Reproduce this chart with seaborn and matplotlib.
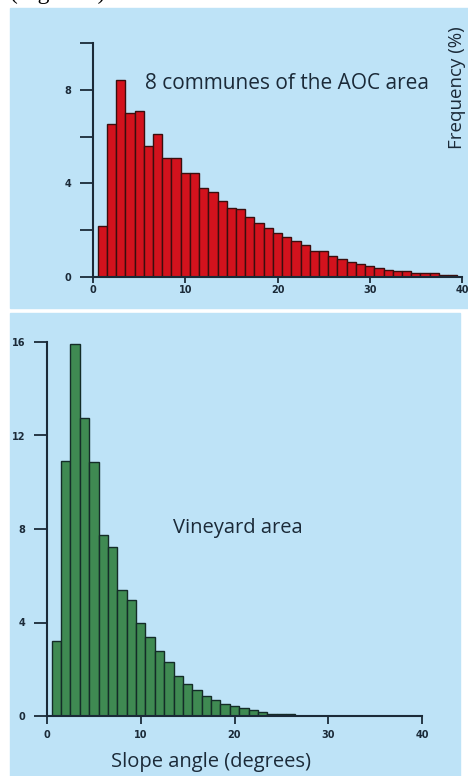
import matplotlib
matplotlib.use("Agg")
import matplotlib.pyplot as plt
from matplotlib.patches import Rectangle
import numpy as np
import seaborn as sns

# slope angle classes (degrees, 1-degree bins) and frequency (%)
aoc_slope = list(range(1, 40))
aoc_freq = [2.2, 6.55, 8.4, 7.0, 7.1, 5.6, 6.1, 5.1, 5.1, 4.45,
            4.45, 3.8, 3.65, 3.25, 2.95, 2.9, 2.55, 2.3, 2.1, 1.9,
            1.7, 1.55, 1.35, 1.1, 1.1, 0.9, 0.75, 0.65, 0.55, 0.45,
            0.38, 0.32, 0.25, 0.25, 0.15, 0.15, 0.15, 0.08, 0.08]

vine_slope = list(range(1, 27))
vine_freq = [3.2, 10.9, 15.9, 12.75, 10.85, 7.75, 7.25, 5.4, 4.95, 4.0,
             3.4, 2.8, 2.3, 1.7, 1.35, 1.1, 0.85, 0.68, 0.5, 0.43,
             0.34, 0.26, 0.18, 0.1, 0.1, 0.1]

top_yticks = [0, 2, 4, 6, 8, 10]
top_ylabels = ["0", "", "4", "", "8", ""]
bot_yticks = [0, 4, 8, 12, 16]
xticks = [0, 10, 20, 30, 40]

BLUE = "#bee3f7"
INK = "#1b2a38"
W, H = 468, 776

sns.set_style("ticks")
plt.rcParams["font.family"] = ["Open Sans", "DejaVu Sans"]


def fx(px):
    return px / W


def fy(py):
    return 1 - py / H


fig = plt.figure(figsize=(W / 100, H / 100), dpi=100, facecolor="white")

# light blue panels behind each chart
fig.add_artist(Rectangle((fx(10), fy(308)), fx(468) - fx(10), fy(8) - fy(308),
                         transform=fig.transFigure, color=BLUE, zorder=0))
fig.add_artist(Rectangle((fx(10), fy(776)), fx(460) - fx(10), fy(313) - fy(776),
                         transform=fig.transFigure, color=BLUE, zorder=0))

ax1 = fig.add_axes([fx(93), fy(277), fx(462) - fx(93), fy(43) - fy(277)])
ax2 = fig.add_axes([fx(47), fy(716), fx(422) - fx(47), fy(342) - fy(716)])

sns.histplot(x=aoc_slope, weights=aoc_freq, discrete=True, ax=ax1,
             color="#d3121d", edgecolor="#3a0e0e", linewidth=1.0, alpha=1)
sns.histplot(x=vine_slope, weights=vine_freq, discrete=True, ax=ax2,
             color="#3f8a52", edgecolor="#142c28", linewidth=1.0, alpha=1)

tick_font = dict(fontsize=7, fontweight="bold", color=INK, family="DejaVu Sans")

for ax in (ax1, ax2):
    ax.set_facecolor("none")
    ax.set_xlim(0, 40)
    ax.set_xlabel("")
    ax.set_ylabel("")
    sns.despine(ax=ax)
    for s in ("left", "bottom"):
        ax.spines[s].set_color(INK)
        ax.spines[s].set_linewidth(1.5)
    ax.set_xticks(xticks)
    ax.set_xticklabels([str(t) for t in xticks], **tick_font)
    ax.tick_params(axis="y", direction="out", length=9.5, width=1.3,
                   color=INK, pad=6)

ax1.set_ylim(0, 10)
ax1.set_yticks(top_yticks)
ax1.set_yticklabels(top_ylabels, **tick_font)
ax1.tick_params(axis="x", direction="out", length=4.5, width=1.3,
                color=INK, pad=1.5)

ax2.set_ylim(0, 16)
ax2.set_yticks(bot_yticks)
ax2.set_yticklabels([str(t) for t in bot_yticks], **tick_font)
ax2.tick_params(axis="x", direction="out", length=6, width=1.3,
                color=INK, pad=4)

fig.text(fx(287), fy(89), "8 communes of the AOC area", ha="center",
         va="baseline", fontsize=15, color=INK)
fig.text(fx(238), fy(533), "Vineyard area", ha="center", va="baseline",
         fontsize=14.5, color=INK)
fig.text(fx(211), fy(767), "Slope angle (degrees)", ha="center",
         va="baseline", fontsize=14.5, color=INK)
fig.text(fx(457), fy(88), "Frequency (%)", ha="center", va="center",
         rotation=90, fontsize=13.5, color=INK)
fig.text(fx(10), fy(-1), "(Figure 4)", ha="left", va="baseline",
         fontsize=17, color="black", family="Liberation Serif")

fig.savefig("out.png", dpi=100, facecolor="white")
